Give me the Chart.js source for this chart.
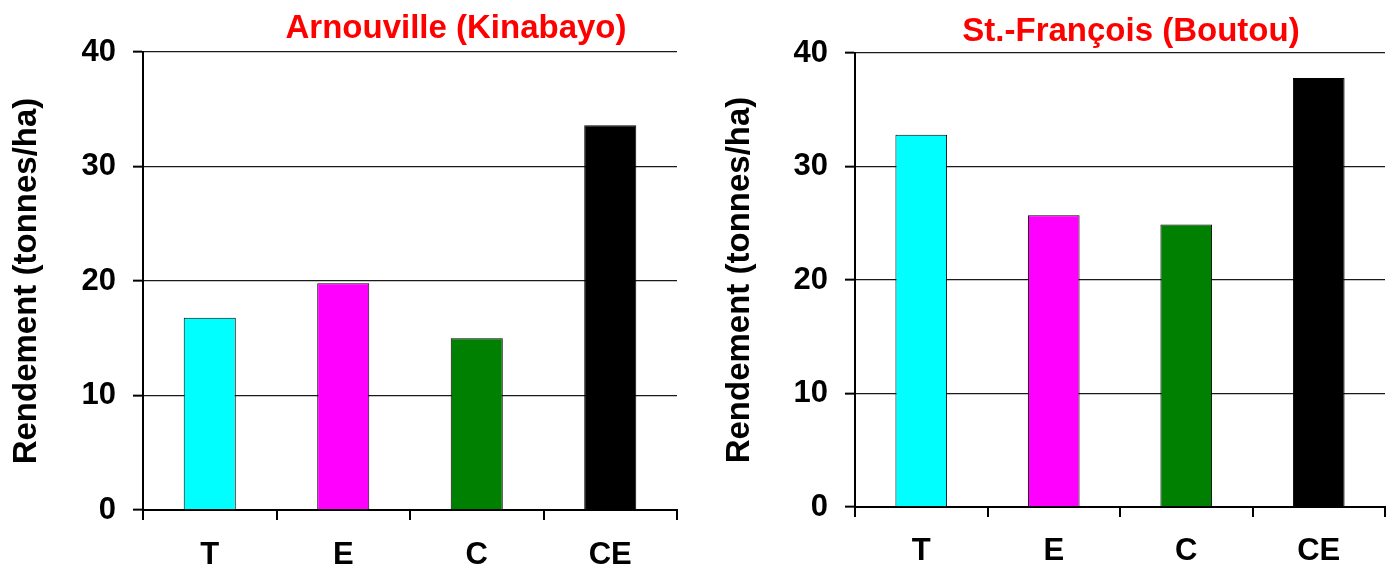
<!DOCTYPE html>
<html>
<head>
<meta charset="utf-8">
<script src="https://cdn.jsdelivr.net/npm/chart.js@4.4.1/dist/chart.umd.min.js"></script>
<style>
  html, body { margin: 0; padding: 0; background: #fff; }
  .box { position: absolute; top: 0; height: 571px; }
  #left { left: 0; width: 695px; }
  #right { left: 700px; width: 691px; }
</style>
</head>
<body>
<div class="box" id="left"><canvas id="chartLeft" width="695" height="571"></canvas></div>
<div class="box" id="right"><canvas id="chartRight" width="691" height="571"></canvas></div>
<script>
// Data
const categories = ['T', 'E', 'C', 'CE'];
const arnouvilleValues = [16.8, 19.8, 15.0, 33.6];
const boutouValues = [32.8, 25.7, 24.9, 37.8];
const barColors = ['#00FFFF', '#FF00FF', '#008000', '#000000'];
const yTitle = 'Rendement (tonnes/ha)';

const FONT = '"Liberation Sans", Arial, sans-serif';
const SIZE = 31;
const TITLE_SIZE = 33;

// draws the red chart title at a fixed spot over the plot
const redTitle = {
    id: 'redTitle',
    afterDraw(chart, args, opts) {
        const ctx = chart.ctx;
        ctx.save();
        ctx.font = 'bold ' + TITLE_SIZE + 'px ' + FONT;
        ctx.fillStyle = '#FF0000';
        ctx.textAlign = 'center';
        ctx.textBaseline = 'middle';
        ctx.fillText(opts.text, opts.x, opts.y);
        ctx.restore();
    }
};

function makeChart(id, values, s) {
    const ctx = document.getElementById(id).getContext('2d');
    return new Chart(ctx, {
        type: 'bar',
        data: {
            labels: categories,
            datasets: [{
                data: values,
                backgroundColor: barColors,
                borderColor: '#000000',
                borderWidth: 1,
                barPercentage: 0.39,
                categoryPercentage: 1.0
            }]
        },
        options: {
            responsive: false,
            animation: false,
            layout: { padding: { top: s.top, right: s.right, left: 0, bottom: 0 } },
            plugins: {
                legend: { display: false },
                tooltip: { enabled: false },
                title: { display: false },
                redTitle: { text: s.title, x: s.titleX, y: s.titleY }
            },
            scales: {
                x: {
                    grid: {
                        offset: true,
                        drawOnChartArea: false,
                        drawTicks: true,
                        tickLength: 10,
                        color: '#000000',
                        lineWidth: 2
                    },
                    border: { color: '#000000', width: 2 },
                    ticks: {
                        color: '#000000',
                        font: { family: FONT, size: SIZE, weight: 'bold' },
                        padding: s.xPad
                    },
                    afterFit: (scale) => { scale.height = s.xHeight; }
                },
                y: {
                    min: 0,
                    max: 40,
                    ticks: {
                        stepSize: 10,
                        color: '#000000',
                        font: { family: FONT, size: SIZE, weight: 'bold' },
                        padding: s.yPad
                    },
                    grid: {
                        color: '#1a1a1a',
                        lineWidth: 1.3,
                        tickLength: 10,
                        tickColor: '#000000',
                        tickWidth: 2
                    },
                    border: { color: '#000000', width: 2 },
                    title: {
                        display: true,
                        text: yTitle,
                        color: '#000000',
                        font: { family: FONT, size: TITLE_SIZE, weight: 'bold' },
                        padding: { top: s.titlePad, bottom: 0 }
                    },
                    afterFit: (scale) => { scale.width = s.yWidth; }
                }
            }
        },
        plugins: [redTitle]
    });
}

makeChart('chartLeft', arnouvilleValues, {
    title: 'Arnouville (Kinabayo)', titleX: 456, titleY: 29,
    top: 52, right: 18, xHeight: 61, yWidth: 143, xPad: 17, yPad: 17, titlePad: 7
});
makeChart('chartRight', boutouValues, {
    title: 'St.-François (Boutou)', titleX: 431, titleY: 32,
    top: 53, right: 6, xHeight: 64, yWidth: 155, xPad: 16, yPad: 17, titlePad: 20
});
</script>
</body>
</html>
